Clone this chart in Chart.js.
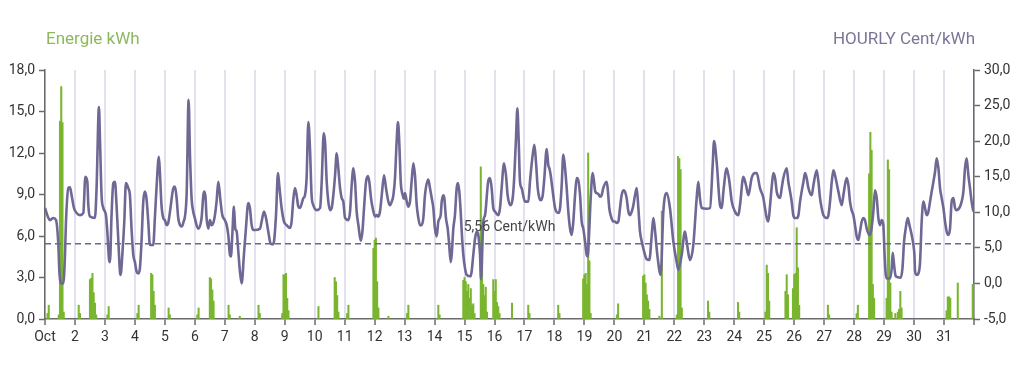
<!DOCTYPE html>
<html>
<head>
<meta charset="utf-8">
<script src="https://cdn.jsdelivr.net/npm/chart.js@4/dist/chart.umd.min.js"></script>
<style>
  html, body { margin: 0; padding: 0; background: #ffffff; }
  #wrap { width: 1024px; height: 374px; position: relative; }
</style>
</head>
<body>
<div id="wrap"><canvas id="c" width="1024" height="374"></canvas></div>
<script>
// ---------- DATA ----------
const dayLabels = ['Oct','2','3','4','5','6','7','8','9','10','11','12','13','14','15','16',
  '17','18','19','20','21','22','23','24','25','26','27','28','29','30','31'];
const hoursPerDay = 24;
const monthHours = 744;

const kwhTicks = [0, 3, 6, 9, 12, 15, 18];
const centTicks = [-5, 0, 5, 10, 15, 20, 25, 30];

const leftTitle = 'Energie kWh';
const rightTitle = 'HOURLY Cent/kWh';
const averageCent = 5.56;
const averageLabel = '5,56 Cent/kWh';

// [hour of month, Cent/kWh]
const pricePoints = [
  [0,10.6],[2.7,9.2],[4,8.9],[6.7,9.2],[8.8,8.9],[10.7,5.4],[11.5,1.7],[13.3,0.0],[14.7,0.0],[16,4.0],[16.8,8.7],[18.7,13.4],[20,13.5],[21.3,12.4],[23.2,10.6],
  [25.3,9.9],[28,9.6],[30.7,9.9],[32.3,15.0],[33.9,14.3],[34.7,11.0],[36,9.4],[40,9.2],[41.3,13.4],[43.2,24.8],[44,20.4],[45.3,12.4],[46.7,10.6],
  [48,10.1],[48.8,9.6],[49.9,7.3],[51.2,3.5],[52,3.0],[53.3,9.6],[54.7,14.1],[56,14.3],[57.3,11.0],[58.7,6.1],[60,1.7],[60.5,1.2],[62.1,4.5],[63.5,8.7],[64.8,14.1],[66.7,13.4],[68,12.4],[69.3,7.7],[70.7,4.0],
  [72,3.0],[73.3,1.7],[74.7,1.4],[76,2.1],[77.3,5.9],[78.7,11.5],[80,12.9],[81.3,11.9],[82.7,8.7],[84,5.4],[86.7,5.4],[88,9.2],[89.3,13.4],[91.2,17.8],[92,15.7],[93.3,11.0],[94.7,9.2],
  [96,8.9],[97.4,8.2],[98.7,8.5],[100.1,10.1],[102.8,13.4],[104.1,13.6],[105.4,12.0],[106.7,9.2],[108.1,8.2],[109.4,8.0],[110.7,8.5],[113.4,12.4],[115,25.8],[116.1,18.1],[117.4,12.0],[118.7,10.1],
  [120,9.2],[121.4,8.2],[122.8,7.7],[125.4,9.2],[126.8,12.4],[127.6,12.9],[128.6,12.0],[129.4,9.2],[130.8,7.7],[132.1,8.9],[133.4,8.2],[134.8,8.5],[136.1,9.6],[137.4,11.5],[138.8,14.3],[140.6,11.5],[142,9.6],
  [144,8.9],[145.5,8.2],[146.8,6.8],[148.1,4.0],[148.9,3.8],[150,6.8],[151.3,10.8],[152.4,7.7],[153.5,7.3],[154.8,4.5],[156.1,1.7],[157.5,0.0],[159.3,4.0],[160.9,7.7],[162.8,11.3],[164.1,10.6],[165.5,8.2],[166.8,7.5],
  [168,7.5],[172.2,7.7],[173.5,8.7],[175.4,10.1],[177,9.2],[178.8,7.3],[180.7,5.6],[182.3,5.5],[183.4,5.9],[185,9.6],[186.6,15.5],[187.6,13.8],[189.5,10.6],[191.4,8.7],
  [193.5,8.2],[196.2,7.8],[197.5,8.7],[198.9,11.9],[200.2,13.4],[201.5,12.4],[202.9,10.8],[204.2,10.6],[206.9,12.0],[208.2,12.4],[209.5,14.8],[210.9,22.7],[212.2,19.0],[213.5,12.4],[214.9,11.0],
  [217.6,10.3],[220.3,10.6],[221.6,14.3],[223.2,21.1],[224.3,19.9],[225.6,14.3],[226.9,11.5],[228.3,10.3],[229.6,10.6],[230.9,12.4],[232.3,15.2],[233.6,18.3],[234.9,16.2],[236.3,13.4],[237.6,12.0],[238.9,11.5],
  [240.3,9.2],[243,8.9],[244.3,10.1],[245.6,13.8],[247,16.2],[248.3,14.3],[249.6,10.1],[251,8.2],[252.8,6.0],[254.2,7.3],[255.5,10.6],[257.1,14.3],[258.7,15.1],[259.7,14.3],[261.1,12.0],[262.4,10.6],
  [264.3,9.4],[265.7,9.6],[267,9.4],[268.3,10.1],[269.7,12.4],[271.5,15.2],[273.1,13.4],[275,11.5],[276.3,11.0],[277.7,11.5],[279,12.4],[280.3,14.8],[281.6,19.9],[282.7,22.7],[283.8,19.5],[284.9,14.3],[286.5,12.4],[287.5,11.9],
  [288.3,12.7],[289.7,11.5],[291,10.8],[292.3,11.5],[293.6,14.3],[295,16.9],[296.3,15.2],[297.7,11.0],[299,9.2],[300.3,8.2],[301.7,8.2],[303,9.2],[304.3,12.4],[307,14.6],[308.3,13.4],[309.7,12.0],[311,10.6],
  [312.3,7.7],[313.7,6.6],[315,8.7],[316.9,9.6],[317.7,11.5],[319,12.4],[319.8,12.0],[321.1,9.2],[322.5,7.7],[323.5,5.9],[324.9,3.0],[325.7,4.0],[327,7.7],[328.3,9.6],[329.7,13.4],[330.7,14.1],[331.8,12.9],[332.9,10.1],[333.9,6.8],[335,4.0],
  [336.4,2.1],[337.7,1.2],[340.9,1.0],[341.7,1.7],[343,4.0],[344.4,6.3],[345.7,7.3],[347,6.8],[348.4,4.0],[349.2,0.6],[351,8.7],[352.4,9.6],[355,14.4],[356.4,14.8],[357.7,13.4],[359,10.6],
  [360.4,10.1],[363.1,9.6],[364.4,10.6],[365.7,13.4],[367.6,16.9],[369.2,15.2],[370.5,12.4],[372.9,11.0],[374.5,11.9],[375.6,14.3],[377.2,20.4],[378.3,24.6],[379.3,20.4],[380.4,14.3],[381.7,13.4],
  [384.4,11.5],[387.1,11.5],[388.4,14.3],[390.6,18.1],[391.9,19.5],[393.2,17.1],[394.6,13.4],[395.9,12.0],[397.2,11.7],[398.6,12.4],[399.9,14.8],[401.8,18.9],[403.1,16.6],[403.9,16.2],[405,15.2],[406.3,13.4],
  [408.5,10.6],[411.1,9.9],[412.5,10.6],[413.8,13.8],[415.1,18.1],[416.5,16.2],[417.8,13.4],[419.1,10.1],[420.5,7.7],[421.8,6.8],[423.1,8.7],[424.5,12.4],[425.8,14.8],[427.1,14.5],[428.5,12.4],[429.8,8.7],[431.1,7.7],
  [432.5,5.9],[433.8,4.0],[434.6,3.8],[435.7,6.8],[437,11.9],[438.6,15.5],[439.7,14.3],[440.7,12.9],[443.1,12.6],[444.5,12.2],[445.8,12.4],[447.1,13.4],[449.8,14.3],[450.6,13.4],[451.9,10.6],[453,9.6],[455.1,8.7],
  [456.5,8.7],[457.8,8.5],[459.2,8.7],[460.5,10.6],[461.8,12.4],[463.2,13.1],[464.5,12.9],[465.8,12.0],[467.2,10.1],[468.5,9.6],[469.9,10.1],[471.2,11.0],[472.5,12.4],[473.9,13.4],[475.2,10.6],[476.5,7.3],[477.9,5.9],[479.2,4.9],
  [480.5,4.0],[481.9,3.4],[484,3.3],[485.9,6.8],[487.2,9.2],[488.5,7.5],[490.4,4.0],[493.1,1.2],[495.2,10.1],[497.9,12.7],[500.5,10.6],[503.2,5.9],
  [505.9,3.0],[507.2,1.9],[509.9,4.0],[512.5,7.3],[513.9,5.9],[516.5,3.3],[519.2,5.4],[521.9,12.0],[523.2,14.3],[524.5,12.0],[525.9,10.6],
  [529.9,10.5],[532.6,10.6],[534.7,16.6],[535.8,20.0],[537.9,17.1],[540.6,11.0],[542,10.6],[543.3,12.9],[545.9,16.2],[548.1,14.3],[550,11.5],
  [552.6,10.1],[555.3,9.6],[556.6,11.0],[559.3,15.0],[561.4,13.8],[563.3,12.4],[565.9,14.8],[568.6,15.5],[570,15.5],[572.6,13.4],[575.3,12.0],
  [576.7,10.5],[578,9.2],[579.3,8.7],[580.7,11.0],[582,13.6],[583.3,15.5],[584.7,14.8],[586,12.9],[587.3,12.2],[588.7,12.0],[590,13.4],[591.3,14.8],[594,16.2],[595.3,14.3],[596.7,12.9],[598,11.5],[599.3,9.6],
  [600.7,9.2],[602,9.2],[603.4,9.6],[604.7,11.5],[607.4,14.3],[608.7,15.5],[610,14.8],[611.4,13.4],[614,12.4],[615.4,13.8],[618,15.9],[619.4,14.3],[620.7,12.0],[622,10.6],[623.4,9.6],
  [626.1,9.2],[627.4,9.6],[628.7,11.5],[630.1,14.3],[631.4,15.9],[632.7,15.2],[635.4,12.9],[638.1,11.0],[639.4,12.4],[642,14.8],[643.4,13.8],[644.7,11.5],[646,10.3],[647.4,9.6],
  [648.7,8.2],[650.1,6.6],[651.4,6.1],[652.7,7.3],[654.1,8.7],[655.4,9.2],[656.7,8.9],[658.1,7.7],[660.2,6.8],[661.5,7.3],[663.4,10.1],[664.7,13.1],[666.1,12.0],[667.4,9.2],[668.7,8.2],[670.1,8.9],[671.4,8.2],
  [672.4,4.0],[673.2,1.5],[674.1,0.7],[676.8,0.7],[678.1,2.1],[678.9,4.3],[680,2.6],[681.3,1.0],[685.3,0.8],[686.7,2.1],[688,5.9],[689.3,7.7],[690.9,9.2],[692.3,8.2],[694.1,6.8],[695.5,5.4],
  [696.3,4.0],[696.8,1.7],[698.1,1.2],[699.5,1.4],[700.8,3.0],[702.1,8.7],[703.5,11.5],[704.8,10.6],[706.1,9.6],[707.5,10.1],[708.8,11.5],[710.1,12.9],[711.5,14.3],[712.8,15.7],[714.1,17.6],[715.5,16.2],[716.8,13.4],[718.1,12.0],[719.5,10.6],
  [720.8,8.7],[722.1,7.3],[723.5,6.8],[724.8,7.7],[726.1,11.5],[727.5,12.0],[728.8,10.6],[730.1,10.3],[732.8,10.8],[734.1,11.5],[735.5,12.9],[736.8,16.2],[738.1,17.6],[739.5,15.2],[740.8,13.4],[742.1,11.5],[743.5,10.1]
];

// [hour of month, kWh]
const energyPoints = [
  [2,0.4],[3,1.0],[11,0.3],[12,14.3],[13,16.8],[14,14.2],[15,0.5],
  [27,1.0],[28,0.4],[36,2.85],[37,2.95],[38,3.3],[39,1.9],[40,1.15],[41,0.3],
  [50,0.3],[51,0.9],
  [74,0.4],[75,1.0],[85,3.3],[86,3.2],[87,2.0],[88,1.0],
  [99,0.8],[100,0.3],
  [122,0.3],[123,0.8],[132,3.0],[133,2.9],[134,2.1],[135,1.3],
  [147,1.0],[148,0.3],[156,0.2],
  [171,1.0],[172,0.4],[190,0.4],[191,3.2],
  [192,3.2],[193,3.3],[194,1.5],[195,0.6],
  [219,0.9],[232,3.0],[233,2.7],[234,1.7],[235,0.5],
  [242,0.4],[243,1.0],[263,5.1],
  [264,5.7],[265,5.85],[266,2.7],[267,0.8],[275,0.2],
  [290,0.4],[291,1.0],
  [315,1.0],[316,0.3],[335,2.8],
  [336,3.0],[337,2.7],[338,2.0],[339,2.5],[340,1.5],[341,2.2],[342,1.0],[343,1.1],[344,0.4],
  [349,11.0],[350,7.0],[351,2.5],[352,1.7],[353,2.3],[354,0.5],[359,2.85],
  [360,2.0],[361,2.85],[362,1.2],[363,0.9],[364,0.4],[374,1.15],
  [387,1.0],[388,0.4],
  [411,1.0],[412,0.4],[431,2.9],
  [432,3.2],[433,3.3],[434,2.5],[435,12.0],[436,4.2],[437,0.4],
  [458,0.3],[459,1.1],[479,3.1],
  [480,3.2],[481,2.6],[482,1.75],[483,1.3],[484,0.7],[492,0.2],[494,7.8],
  [506,0.3],[507,11.75],[508,11.6],[509,10.8],[510,0.8],
  [531,1.3],[532,0.5],
  [555,1.2],[556,0.5],
  [577,0.5],[578,3.9],[579,3.3],[580,1.3],[593,2.0],[594,3.2],[595,1.75],[599,2.2],
  [600,3.2],[601,3.3],[602,6.6],[603,3.7],[604,1.0],
  [627,1.0],[628,0.3],
  [650,0.4],[651,1.0],[660,10.5],[661,13.5],[662,12.2],[663,2.5],[664,1.5],
  [674,1.5],[675,11.5],[676,10.8],[677,2.6],[678,0.5],[681,0.4],[683,0.5],[684,0.7],[685,2.0],[686,0.8],
  [722,0.6],[723,1.6],[724,1.6],[725,1.5],[731,2.6],[743,2.5]
];

// ---------- STYLE ----------
const GREEN = '#7ab52f';
const PURPLE = '#6f6794';
const AXIS = '#6a6a6a';
const GRID = '#e2e2ef';
const TICK_TXT = '#333333';
const FONT = 'Roboto, "Noto Sans", sans-serif';

const fmt = v => Number(v).toFixed(1).replace('.', ',');

const overlayPlugin = {
  id: 'overlay',
  afterDatasetsDraw(chart) {
    const ctx = chart.ctx;
    const area = chart.chartArea;
    const y1 = chart.scales.y1;
    ctx.save();
    ctx.font = '14px ' + FONT;
    ctx.fillStyle = '#444444';
    ctx.textAlign = 'center';
    ctx.textBaseline = 'middle';
    ctx.fillText(averageLabel, (area.left + area.right) / 2, y1.getPixelForValue(averageCent) - 16);
    ctx.restore();
  },
  afterDraw(chart) {
    const ctx = chart.ctx;
    const area = chart.chartArea;
    ctx.save();
    ctx.font = '17px ' + FONT;
    ctx.textBaseline = 'alphabetic';
    ctx.fillStyle = '#8cb95e';
    ctx.textAlign = 'left';
    ctx.fillText(leftTitle, area.left + 1, 44);
    ctx.fillStyle = '#7b7598';
    ctx.textAlign = 'right';
    ctx.fillText(rightTitle, area.right + 1, 44);
    ctx.restore();
  }
};

const ctx = document.getElementById('c').getContext('2d');
new Chart(ctx, {
  data: {
    datasets: [
      {
        type: 'line',
        label: 'avg',
        data: [{x: 0, y: averageCent}, {x: monthHours, y: averageCent}],
        yAxisID: 'y1',
        borderColor: '#6b6890',
        borderWidth: 1.5,
        borderDash: [6, 4],
        pointRadius: 0,
        order: 2
      },
      {
        type: 'line',
        label: 'price',
        data: pricePoints.map(p => ({x: p[0], y: p[1]})),
        yAxisID: 'y1',
        borderColor: PURPLE,
        borderWidth: 2.6,
        pointRadius: 0,
        cubicInterpolationMode: 'monotone',
        order: 1
      },
      {
        type: 'bar',
        label: 'energy',
        data: energyPoints.map(p => ({x: p[0], y: p[1]})),
        yAxisID: 'y',
        backgroundColor: GREEN,
        borderWidth: 0,
        barThickness: 1.4,
        order: 3
      }
    ]
  },
  options: {
    responsive: false,
    devicePixelRatio: 1,
    animation: false,
    layout: { padding: { top: 70, left: 0, right: 0, bottom: 0 } },
    plugins: { legend: { display: false }, tooltip: { enabled: false } },
    scales: {
      x: {
        type: 'linear',
        offset: false,
        min: 0,
        max: monthHours,
        afterFit: s => { s.height = 55; },
        afterBuildTicks: s => {
          s.ticks = [];
          for (let i = 0; i <= dayLabels.length; i++) s.ticks.push({ value: i * hoursPerDay });
        },
        ticks: {
          autoSkip: false,
          maxRotation: 0,
          padding: 4,
          color: TICK_TXT,
          font: { family: FONT, size: 14 },
          callback: v => dayLabels[Math.round(v / hoursPerDay)] ?? ''
        },
        grid: { offset: false, color: GRID, lineWidth: 2, tickColor: AXIS, tickLength: 6, tickWidth: 1.5, drawOnChartArea: true },
        border: { display: true, color: AXIS, width: 1.5 }
      },
      y: {
        position: 'left',
        min: kwhTicks[0],
        max: kwhTicks[kwhTicks.length - 1],
        afterFit: s => { s.width = 45; },
        afterBuildTicks: s => { s.ticks = kwhTicks.map(v => ({ value: v })); },
        ticks: {
          padding: 4,
          color: TICK_TXT,
          font: { family: FONT, size: 14 },
          callback: v => fmt(v)
        },
        grid: { drawOnChartArea: false, tickColor: AXIS, tickLength: 6, tickWidth: 1.5 },
        border: { display: true, color: AXIS, width: 1.5 }
      },
      y1: {
        position: 'right',
        min: centTicks[0],
        max: centTicks[centTicks.length - 1],
        afterFit: s => { s.width = 50; },
        afterBuildTicks: s => { s.ticks = centTicks.map(v => ({ value: v })); },
        ticks: {
          padding: 4,
          color: TICK_TXT,
          font: { family: FONT, size: 14 },
          callback: v => fmt(v)
        },
        grid: { drawOnChartArea: false, tickColor: AXIS, tickLength: 6, tickWidth: 1.5 },
        border: { display: true, color: AXIS, width: 1.5 }
      }
    }
  },
  plugins: [overlayPlugin]
});
</script>
</body>
</html>
